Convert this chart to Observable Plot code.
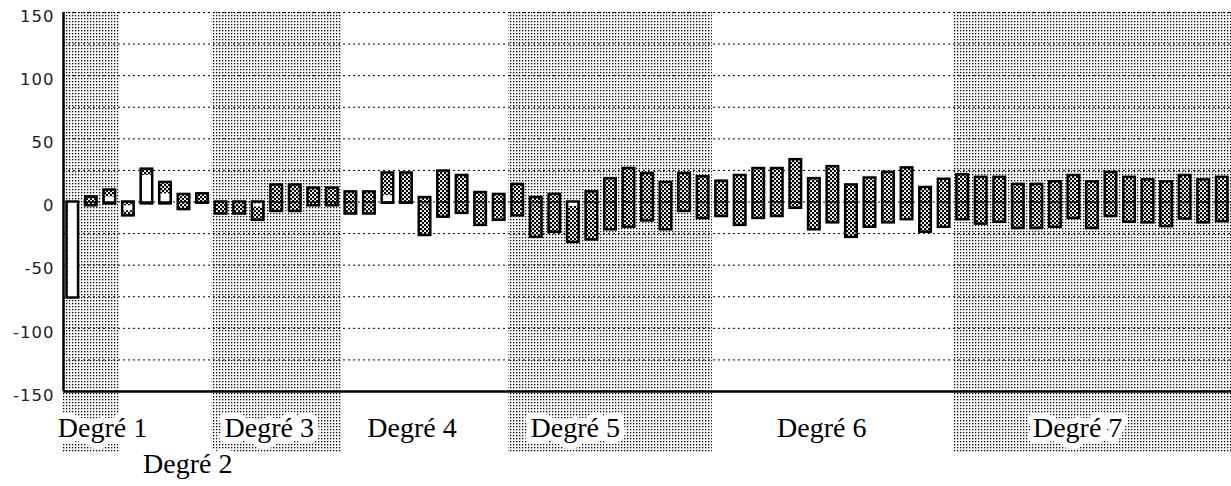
<!DOCTYPE html>
<html>
<head>
<meta charset="utf-8">
<script src="https://cdn.jsdelivr.net/npm/d3@7"></script>
<script src="https://cdn.jsdelivr.net/npm/@observablehq/plot@0.6"></script>
<style>
  html, body { margin: 0; padding: 0; background: #fff; }
</style>
</head>
<body>
<div id="chart"></div>
<script>
// ---- data ----
const degreeLabels = ["Degré 1", "Degré 2", "Degré 3", "Degré 4", "Degré 5", "Degré 6", "Degré 7"];
const barsPerDegree = [3, 5, 7, 9, 11, 13, 15];
const shadedDegree = [true, false, true, false, true, false, true];
// label anchor positions, in bar-index units
const labelAt = [2.1, 6.7, 11.1, 18.8, 27.6, 40.9, 54.7];
const labelRow = [0, 1, 0, 0, 0, 0, 0];

// bar ranges (low, high), one per coefficient
const barLow = [
  -76, -3, -1.5,
  -11, -1.5, -1.5, -6, -1,
  -9.5, -9.5, -14.5, -7.5, -7.5, -3, -3,
  -9.5, -9.5, -1, -1, -26.5, -12, -9, -18.5, -14.5,
  -11, -28, -24, -32, -30, -22, -20, -15, -22, -7.5, -13,
  -11.5, -18.5, -13, -11.5, -5, -22, -16.5, -28, -20, -16.5, -14, -24, -20,
  -14, -17.5, -16, -21, -21, -20, -13, -21, -11.5, -16, -16.5, -19.5, -13.5, -16.5, -15.5
];
const barHigh = [
  0, 4, 9.5,
  0, 26, 15.5, 6, 6.5,
  0, 0, 0, 13.5, 13.5, 11, 11,
  8, 8, 23, 23, 3.5, 24.5, 21, 7.5, 6,
  14, 3.5, 6, 0, 8, 18.5, 26.5, 22.5, 15.5, 22.5, 20,
  16.5, 21, 26.5, 26.5, 33.5, 18.5, 28, 13.5, 19, 23.5, 27, 11.5, 18,
  21.5, 19.5, 19.5, 14, 14, 16, 21, 16, 23.5, 19.5, 17.5, 16, 21, 17.5, 19.5
];
// unfilled (white) parts of some bars
const whiteIndex = [0, 2, 3, 4, 5, 10, 17, 27];
const whiteLow  = [-76, -1.5, -7, -1.5, -1.5, -4, -1, -3.5];
const whiteHigh = [0, 4, -3, 21, 6.5, -1.5, 5, 0];

const yTicks = [-150, -100, -50, 0, 50, 100, 150];
const gridValues = [-125, -100, -75, -50, -25, 0, 25, 50, 75, 100, 125, 150];

// ---- derived tables ----
const nBars = d3.sum(barsPerDegree);
const starts = d3.cumsum([0, ...barsPerDegree]);
const bands = barsPerDegree.map((n, k) => ({start: starts[k], end: starts[k] + n, shaded: shadedDegree[k]}));
const bars = barLow.map((lo, i) => ({i, lo, hi: barHigh[i]}));
const whites = whiteIndex.map((i, k) => ({i, lo: whiteLow[k], hi: whiteHigh[k]}));
const labels = degreeLabels.map((t, k) => ({text: t, at: labelAt[k], row: labelRow[k]}));

const serif = "'Liberation Serif', 'DejaVu Serif', serif";

const chart = Plot.plot({
  width: 1231,
  height: 486,
  marginLeft: 63,
  marginRight: 0,
  marginTop: 12,
  marginBottom: 95,
  x: {domain: [0, nBars], axis: null},
  y: {domain: [-150, 150], axis: null},
  style: {background: "white", overflow: "visible"},
  marks: [
    Plot.rect(bands.filter(d => d.shaded), {x1: "start", x2: "end", fill: "url(#bgdots)", insetBottom: -61}),
    Plot.ruleY(gridValues, {stroke: "#000", strokeWidth: 1, strokeDasharray: "2,3"}),
    Plot.rect(bars, {x1: "i", x2: d => d.i + 1, y1: "lo", y2: "hi", fill: "url(#hatch)", insetLeft: 3.5, insetRight: 3.5}),
    Plot.rect(whites, {x1: "i", x2: d => d.i + 1, y1: "lo", y2: "hi", fill: "white", insetLeft: 4.5, insetRight: 4.5}),
    Plot.ruleY(bars.filter(d => d.lo < 0 && d.hi > 0), {y: 0, x1: "i", x2: d => d.i + 1, insetLeft: 4, insetRight: 4, stroke: "#000", strokeWidth: 1.5}),
    Plot.rect(bars, {x1: "i", x2: d => d.i + 1, y1: "lo", y2: "hi", fill: "none", stroke: "#000", strokeWidth: 2.5, insetLeft: 3.5, insetRight: 3.5}),
    Plot.ruleY([-150], {stroke: "#000", strokeWidth: 2.5}),
    Plot.ruleX([0], {y1: -150, y2: 150, stroke: "#000", strokeWidth: 2.5}),
    Plot.axisY({
      ticks: yTicks, tickSize: 0, tickPadding: 9, tickFormat: d => String(d),
      fontSize: 16.5, fontFamily: "'DejaVu Sans', sans-serif", fill: "#222", dy: 4
    }),
    Plot.text(labels.filter(d => d.row === 0), {
      x: "at", text: "text", frameAnchor: "bottom", lineAnchor: "bottom", dy: 45,
      fontSize: 28, fontFamily: serif, fill: "#000", stroke: "white", strokeWidth: 12
    }),
    Plot.text(labels.filter(d => d.row === 1), {
      x: "at", text: "text", frameAnchor: "bottom", lineAnchor: "bottom", dy: 81,
      fontSize: 28, fontFamily: serif, fill: "#000", stroke: "white", strokeWidth: 12
    })
  ]
});

d3.select(chart).insert("defs", ":first-child").html(`
  <pattern id="bgdots" width="3" height="3" patternUnits="userSpaceOnUse">
    <rect width="3" height="3" fill="#fff"/>
    <rect x="0" y="0" width="1.3" height="1.3" fill="#000"/>
  </pattern>
  <pattern id="hatch" width="4" height="4" patternUnits="userSpaceOnUse">
    <rect width="4" height="4" fill="#fff"/>
    <rect x="0" y="0" width="2.2" height="2.2" fill="#000"/>
    <rect x="2" y="2" width="2.2" height="2.2" fill="#000"/>
  </pattern>
`);
d3.select(chart).selectAll("g[aria-label='y-axis tick label']").style("letter-spacing", "1px");

document.getElementById("chart").appendChild(chart);
</script>
</body>
</html>
